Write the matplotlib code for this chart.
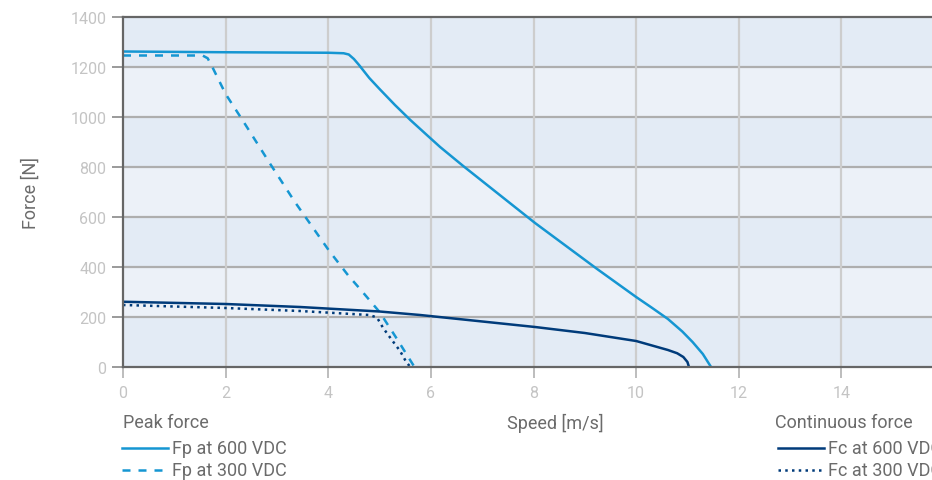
import numpy as np
import matplotlib
matplotlib.use('Agg')
import matplotlib.pyplot as plt
from matplotlib.lines import Line2D

plt.rcParams['font.family'] = ['Roboto', 'DejaVu Sans']

# peak force at 600 VDC
fp600_x = [0, 2, 4, 4.3, 4.4, 4.5, 4.6, 4.8, 5.0, 5.3, 5.6, 5.9, 6.18, 6.63, 8.03, 9.24, 10, 10.3,
           10.62, 10.9, 11.1, 11.3, 11.46]
fp600_y = [1262, 1259, 1257, 1255, 1250, 1232, 1208, 1156, 1112, 1048, 988, 932, 880, 804, 576, 392,
           280, 238, 192, 142, 100, 52, 0]
# peak force at 300 VDC
fp300_x = [0, 1.55, 1.65, 1.76, 2.0, 2.34, 2.87, 3.35, 4.02, 4.39, 4.62, 5.0, 5.34, 5.68]
fp300_y = [1246, 1246, 1235, 1192, 1092, 984, 812, 660, 464, 366, 312, 220, 112, 0]
# continuous force at 600 VDC
fc600_x = [0, 2, 3.45, 5.0, 5.79, 8.03, 9.0, 10, 10.62, 10.8, 10.92, 11.0, 11.03]
fc600_y = [261, 252, 240, 222, 208, 160, 136, 104, 68, 55, 40, 20, 0]
# continuous force at 300 VDC
fc300_x = [0, 2, 3.45, 4.8, 4.95, 5.07, 5.24, 5.4, 5.52, 5.6]
fc300_y = [248, 236, 224, 208, 198, 156, 108, 64, 20, 0]

x_ticks = [0, 2, 4, 6, 8, 10, 12, 14]
y_ticks = [0, 200, 400, 600, 800, 1000, 1200, 1400]

light_blue = '#1596d2'
navy = '#003b7a'
tick_grey = '#bdbdbd'
text_grey = '#6b6b6b'
dashed = (0, (3.2, 3.2))
dotted = (0, (1, 1.7))

W, H = 932, 481
fig = plt.figure(figsize=(W / 100, H / 100), dpi=100)


def fx(px):
    return px / W


def fy(py):
    return 1 - py / H


# axes runs past the right edge of the figure (clipped like the reference)
ax = fig.add_axes([fx(123), fy(368), fx(944 - 123), (368 - 18) / H])
ax.set_xlim(0, 16)
ax.set_ylim(0, 1400)

# alternating horizontal bands
for i in range(len(y_ticks) - 1):
    c = '#e3ebf5' if i % 2 == 0 else '#ecf1f8'
    ax.axhspan(y_ticks[i], y_ticks[i + 1], color=c, lw=0, zorder=0)

for y in y_ticks[1:-1]:
    ax.axhline(y, color='#aeaeae', lw=1.6, zorder=1)
for x in x_ticks[1:]:
    ax.axvline(x, color='#cdcdcd', lw=1.6, zorder=1)

ax.plot(fp600_x, fp600_y, color=light_blue, lw=1.8, zorder=3)
ax.plot(fp300_x, fp300_y, color=light_blue, lw=1.8, ls=dashed, zorder=3)
ax.plot(fc600_x, fc600_y, color=navy, lw=1.8, zorder=3)
ax.plot(fc300_x, fc300_y, color=navy, lw=1.8, ls=dotted, zorder=3)

for s in ['left', 'top', 'bottom']:
    ax.spines[s].set_color('#666666')
    ax.spines[s].set_linewidth(1.6)
    ax.spines[s].set_zorder(4)
ax.spines['right'].set_visible(False)

ax.set_xticks(x_ticks)
ax.set_yticks(y_ticks)
ax.tick_params(axis='both', colors=tick_grey, labelcolor='#c4c4c4', labelsize=11.5,
               length=8, width=1.4)
ax.tick_params(axis='x', pad=5)
ax.tick_params(axis='y', pad=4, color='#9a9a9a')

ax.set_ylabel('Force [N]', color=text_grey, fontsize=13, labelpad=22)

# bottom texts and legends
fig.text(fx(555), fy(423), 'Speed [m/s]', color=text_grey, fontsize=13,
         ha='center', va='center')
fig.text(fx(123), fy(423), 'Peak force', color=text_grey, fontsize=13, va='center')
fig.text(fx(775), fy(423), 'Continuous force', color=text_grey, fontsize=13, va='center')

legend_rows = [
    (122, 449, light_blue, '-', 'Fp at 600 VDC'),
    (122, 471, light_blue, dashed, 'Fp at 300 VDC'),
    (778, 449, navy, '-', 'Fc at 600 VDC'),
    (778, 471, navy, dotted, 'Fc at 300 VDC'),
]
for x0, y0, col, ls, lab in legend_rows:
    fig.add_artist(Line2D([fx(x0), fx(x0 + 46)], [fy(y0), fy(y0)], color=col, lw=1.8, ls=ls,
                          transform=fig.transFigure))
    fig.text(fx(x0 + 50), fy(y0), lab, color=text_grey, fontsize=13, va='center')

fig.savefig('out.png', dpi=100)
